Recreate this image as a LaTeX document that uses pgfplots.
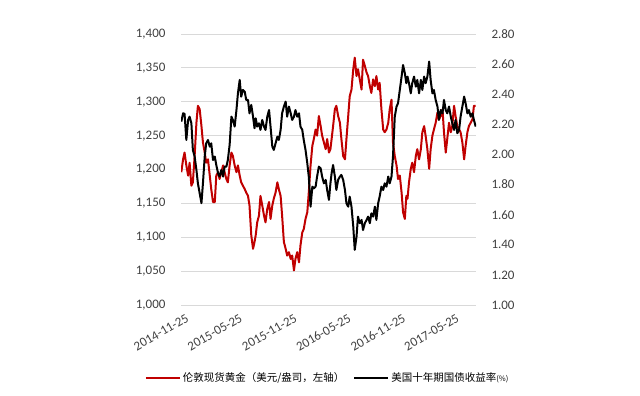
\documentclass[border=0pt]{standalone}
\usepackage{pgfplots}
\pgfplotsset{compat=1.18}
\usepackage{pgfplotstable}
\usepackage{fontspec}
\setmainfont{Carlito}
\newfontfamily\cjk{Noto Sans CJK SC}
\definecolor{goldred}{HTML}{C00000}
\definecolor{gridgray}{HTML}{D9D9D9}
\definecolor{labelgray}{HTML}{404040}

\pgfplotstableread{
day gold
1 1196
7 1215
12 1225
18 1206
24 1191
29 1210
35 1176
40 1181
46 1220
52 1269
57 1294
63 1289
69 1264
74 1240
80 1225
85 1210
91 1215
97 1191
102 1171
108 1152
114 1152
119 1191
125 1196
130 1186
136 1196
142 1206
147 1196
153 1186
158 1181
164 1206
170 1225
175 1220
181 1206
187 1196
192 1206
198 1191
203 1181
209 1176
215 1171
220 1166
226 1161
231 1147
237 1103
243 1083
248 1093
252 1103
257 1122
263 1132
268 1161
274 1147
280 1132
285 1122
291 1142
297 1152
302 1127
308 1147
313 1157
319 1166
325 1181
330 1171
336 1161
341 1132
347 1093
353 1083
358 1073
364 1078
370 1068
375 1073
381 1051
386 1068
392 1078
398 1063
403 1088
409 1107
414 1112
420 1127
426 1137
431 1166
437 1206
443 1235
448 1245
454 1259
459 1250
465 1279
471 1264
476 1250
482 1240
488 1230
493 1245
499 1225
504 1230
508 1245
513 1264
519 1289
524 1294
530 1279
536 1269
541 1245
547 1220
553 1215
558 1245
564 1279
569 1308
575 1318
581 1348
586 1365
592 1338
597 1348
603 1333
609 1318
614 1362
620 1353
626 1343
631 1338
637 1323
642 1313
648 1333
654 1323
659 1338
665 1318
670 1328
676 1289
682 1259
687 1255
693 1259
699 1269
704 1289
710 1303
715 1240
721 1220
727 1206
732 1186
738 1191
744 1166
749 1137
755 1127
760 1161
764 1157
769 1181
775 1201
780 1210
786 1196
792 1220
797 1230
803 1215
809 1230
814 1255
820 1264
825 1250
831 1230
837 1201
842 1230
848 1250
853 1259
859 1269
865 1284
870 1274
876 1279
882 1289
887 1255
893 1225
898 1245
904 1269
910 1255
915 1264
921 1294
926 1279
932 1264
938 1259
943 1255
949 1240
955 1215
960 1235
966 1255
971 1264
977 1269
983 1274
988 1294
994 1294
}\goldtable

\pgfplotstableread{
day yield
1 2.218
7 2.273
12 2.270
18 2.096
24 2.229
29 2.251
35 2.207
40 2.030
46 1.986
52 1.897
57 1.808
63 1.742
69 1.676
74 1.808
80 1.986
85 2.074
91 2.096
97 2.052
102 2.074
108 1.963
114 1.986
119 1.930
125 1.875
130 1.853
136 1.897
142 1.853
147 1.919
153 1.919
158 1.963
164 2.063
170 2.251
175 2.229
181 2.185
187 2.295
192 2.406
198 2.495
203 2.384
209 2.428
215 2.417
220 2.362
226 2.362
231 2.273
237 2.329
243 2.251
248 2.174
252 2.240
257 2.185
263 2.207
268 2.163
274 2.229
280 2.185
285 2.163
291 2.251
297 2.295
302 2.185
308 2.052
313 2.030
319 2.074
325 2.118
330 2.096
336 2.163
341 2.273
347 2.318
353 2.351
358 2.251
364 2.318
370 2.273
375 2.229
381 2.251
386 2.295
392 2.251
398 2.273
403 2.185
409 2.163
414 2.096
420 2.030
426 1.941
431 1.853
437 1.653
443 1.786
448 1.775
454 1.786
459 1.853
465 1.919
471 1.908
476 1.853
482 1.808
488 1.831
493 1.764
499 1.698
504 1.808
508 1.875
513 1.930
519 1.853
524 1.764
530 1.831
536 1.853
541 1.864
547 1.831
553 1.764
558 1.676
564 1.653
569 1.720
575 1.653
581 1.521
586 1.366
592 1.454
597 1.587
603 1.543
609 1.565
614 1.498
620 1.543
626 1.565
631 1.587
637 1.543
642 1.609
648 1.587
654 1.653
659 1.565
665 1.676
670 1.720
676 1.786
682 1.764
687 1.808
693 1.786
699 1.853
704 1.808
710 1.853
715 1.986
721 2.251
727 2.318
732 2.340
738 2.428
744 2.517
749 2.594
755 2.539
760 2.473
764 2.517
769 2.473
775 2.406
780 2.473
786 2.517
792 2.450
797 2.495
803 2.406
809 2.495
814 2.428
820 2.517
825 2.473
831 2.517
837 2.617
842 2.495
848 2.406
853 2.428
859 2.362
865 2.318
870 2.229
876 2.295
882 2.273
887 2.362
893 2.295
898 2.273
904 2.318
910 2.251
915 2.207
921 2.163
926 2.229
932 2.141
938 2.163
943 2.251
949 2.318
955 2.384
960 2.340
966 2.273
971 2.295
977 2.251
983 2.273
988 2.229
994 2.185
}\yieldtable

\begin{document}
\begin{tikzpicture}
\path[use as bounding box] (0,0) rectangle (640bp,396bp);
\begin{axis}[
  at={(181bp,91bp)}, anchor=south west,
  scale only axis, width=295bp, height=271bp,
  xmin=0, xmax=995, ymin=1000, ymax=1400,
  xtick={0,181,365,547,731,912},
  xticklabels={2014-11-25,2015-05-25,2015-11-25,2016-05-25,2016-11-25,2017-05-25},
  ytick={1000,1050,1100,1150,1200,1250,1300,1350,1400},
  ymajorgrids, grid style={gridgray, line width=0.9bp},
  axis line style={draw=none},
  major tick length=0pt,
  tick label style={font=\fontsize{13bp}{15bp}\selectfont, text=labelgray},
  /pgf/number format/assume math mode=true,
  /pgf/number format/1000 sep={,},
  yticklabel style={xshift=-12bp},
  xticklabel style={rotate=30, anchor=north east, xshift=3bp, yshift=-6bp},
  legend style={at={(0.497,-0.269)}, anchor=center, draw=none, fill=none,
    font=\cjk\fontsize{10.5bp}{12bp}\selectfont, text=black,
    /tikz/every even column/.append style={column sep=7bp}},
  legend columns=2,
  legend image code/.code={\draw[#1] (0bp,0bp) -- (34bp,0bp);},
]
\addplot[goldred, line width=2bp, line join=round] table[x=day, y=gold] {\goldtable};
\addlegendentry{伦敦现货黄金（美元/盎司，左轴）}
\addlegendimage{black, line width=2bp}
\addlegendentry{美国十年期国债收益率{\fontsize{7.5bp}{9bp}\selectfont(\%)}}
\end{axis}
\begin{axis}[
  at={(181bp,91bp)}, anchor=south west,
  scale only axis, width=295bp, height=271bp,
  xmin=0, xmax=995, ymin=1, ymax=2.8,
  hide x axis, axis y line*=right,
  axis line style={draw=none},
  major tick length=0pt,
  ytick={1,1.2,1.4,1.6,1.8,2,2.2,2.4,2.6,2.8},
  tick label style={font=\fontsize{13bp}{15bp}\selectfont, text=labelgray},
  /pgf/number format/assume math mode=true,
  yticklabel style={xshift=12bp, /pgf/number format/.cd, fixed, fixed zerofill, precision=2},
]
\addplot[black, line width=2bp, line join=round] table[x=day, y=yield] {\yieldtable};
\end{axis}
\end{tikzpicture}
\end{document}
